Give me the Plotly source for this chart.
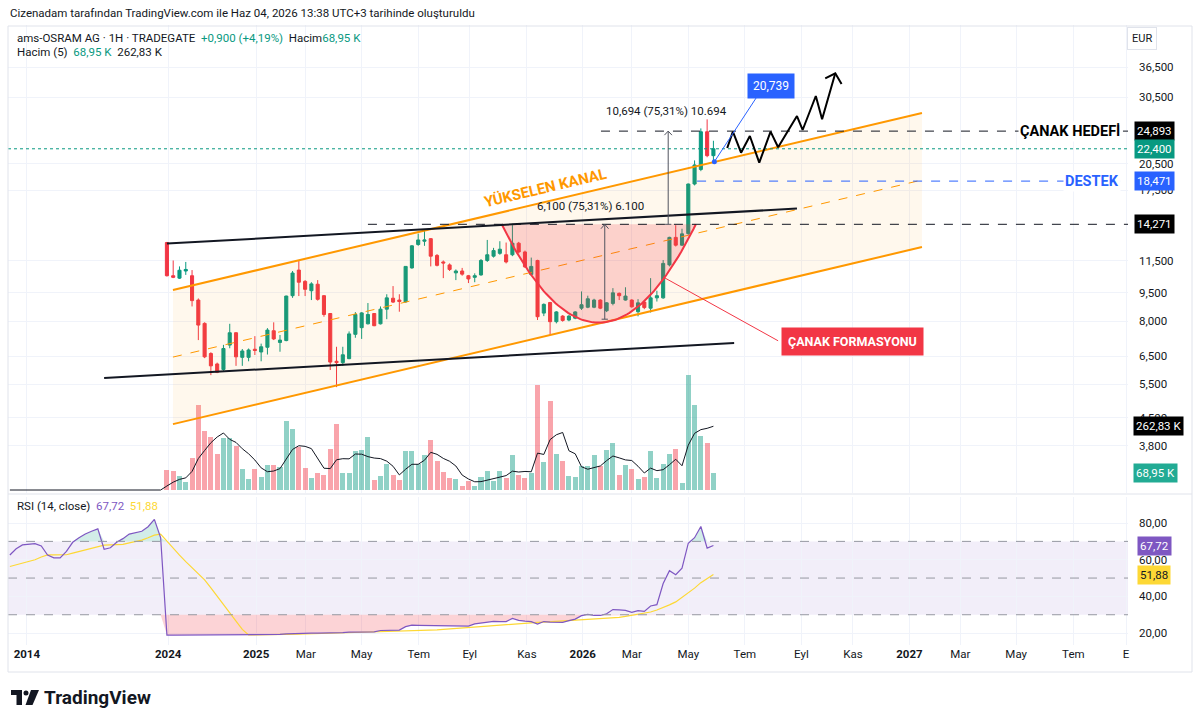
import numpy as np
import pandas as pd
import plotly.graph_objects as go

################################################################################
# data (weekly bars, EUR, volume in thousands)

# bars before the 2024 listing: only RSI is visible for them
rsi_pre = [62.6, 66.0, 68.1, 68.3, 68.8, 67.5, 62.5, 61.0, 61.0, 64.6,
           69.5, 72.0, 74.0, 75.5, 76.8, 65.7, 66.5, 69.5, 71.5, 74.0,
           74.7, 75.5, 78.0, 82.0, 72.0]
rsi_ma_pre = [56.3, 57.2, 58.0, 59.0, 60.0, 61.5, 62.6, 62.6, 62.6, 62.7,
              63.6, 64.5, 65.4, 66.4, 67.4, 68.0, 68.1, 68.2, 68.4, 69.2,
              69.9, 70.7, 72.0, 73.4, 74.0]

opens = [12.8, 10.5, 10.35, 10.8, 10.5, 9.08, 7.9, 6.6, 6.2, 6.0,
         6.94, 7.47, 6.45, 6.45, 6.77, 6.66, 6.85, 7.56, 7.05, 7.13,
         9.32, 10.86, 10.15, 9.6, 9.98, 9.32, 8.38, 6.3, 6.25, 6.4,
         7.4, 7.7, 7.88, 8.38, 7.88, 8.6, 9.18, 9.08, 8.98, 11.0,
         12.65, 12.9, 13.1, 11.85, 11.4, 11.2, 10.68, 10.8, 10.5, 10.4,
         10.55, 11.5, 11.8, 12.0, 11.9, 11.9, 12.75, 12.1, 10.58, 11.5,
         8.4, 8.95, 7.98, 8.25, 8.06, 8.15, 8.65, 8.7, 8.7, 9.08,
         8.52, 8.9, 9.45, 9.08, 9.08, 8.47, 8.97, 8.65, 9.2, 9.2,
         11.2, 13.2, 12.6, 13.5, 18.15, 19.8, 24.8, 21.5]
highs = [12.85, 11.5, 11.1, 11.4, 10.86, 9.17, 7.95, 6.65, 6.25, 6.95,
         7.88, 7.5, 6.78, 6.8, 7.32, 7.0, 7.68, 7.95, 7.37, 9.32,
         10.8, 11.53, 10.23, 10.1, 10.23, 9.35, 8.4, 6.87, 6.87, 7.53,
         8.45, 8.45, 8.92, 8.4, 8.74, 9.4, 9.87, 9.4, 11.1, 12.6,
         13.5, 13.75, 13.15, 11.95, 11.5, 11.3, 10.9, 11.0, 10.55, 10.65,
         11.6, 13.0, 12.4, 12.9, 12.8, 14.2, 12.85, 12.2, 11.7, 11.55,
         8.9, 8.98, 8.5, 8.3, 8.3, 8.5, 9.56, 9.32, 9.15, 9.12,
         8.97, 9.75, 9.5, 9.8, 9.12, 9.13, 9.0, 10.35, 9.6, 11.53,
         13.25, 14.2, 13.9, 18.2, 20.9, 25.3, 26.7, 23.5]
lows = [10.45, 10.35, 10.3, 10.55, 8.74, 7.15, 6.42, 5.8, 5.87, 5.95,
        6.81, 6.13, 6.13, 6.3, 6.54, 6.3, 6.56, 7.15, 6.67, 7.1,
        9.2, 9.3, 9.3, 9.08, 9.05, 8.22, 5.98, 5.4, 6.13, 6.38,
        7.25, 7.2, 7.85, 7.77, 7.85, 8.1, 8.92, 8.47, 8.95, 10.95,
        12.55, 12.55, 11.1, 11.1, 10.35, 10.8, 10.23, 10.5, 10.05, 10.1,
        10.5, 11.4, 11.7, 11.9, 11.3, 11.8, 12.0, 11.0, 10.5, 8.06,
        8.25, 7.37, 7.9, 7.98, 8.0, 8.1, 8.56, 8.65, 8.65, 8.6,
        8.45, 8.8, 9.08, 9.05, 8.68, 8.24, 8.6, 8.43, 9.0, 9.15,
        11.1, 12.5, 12.55, 13.4, 18.0, 19.6, 21.3, 20.95]
closes = [10.5, 10.4, 10.85, 10.9, 9.05, 7.82, 6.47, 6.13, 5.9, 6.8,
          7.47, 6.47, 6.7, 6.74, 6.72, 6.87, 7.59, 7.2, 7.15, 9.3,
          10.67, 10.1, 9.68, 10.0, 9.12, 8.33, 6.27, 6.25, 6.55, 7.42,
          8.33, 8.41, 8.33, 7.79, 8.6, 9.2, 8.97, 9.0, 11.1, 12.55,
          13.0, 13.0, 11.8, 11.17, 11.33, 10.9, 10.8, 10.6, 10.3, 10.5,
          11.5, 11.9, 12.2, 12.3, 11.4, 12.75, 12.1, 11.07, 11.1, 8.22,
          8.85, 7.98, 8.46, 8.04, 8.25, 8.46, 8.83, 9.15, 9.08, 8.65,
          8.93, 9.48, 9.32, 9.3, 8.72, 8.93, 8.68, 9.2, 9.32, 11.3,
          13.2, 12.6, 13.48, 18.15, 20.34, 24.8, 21.5, 22.4]
volumes = [82, 78, 57, 31, 132, 345, 242, 215, 148, 214,
           214, 180, 86, 46, 86, 54, 101, 101, 95, 283,
           248, 177, 88, 49, 71, 60, 169, 268, 71, 68,
           159, 165, 218, 42, 57, 107, 60, 42, 158, 158,
           107, 143, 203, 117, 75, 49, 46, 18, 37, 18,
           52, 78, 37, 78, 49, 143, 60, 49, 71, 430,
           116, 363, 148, 117, 57, 54, 98, 98, 143, 98,
           163, 192, 60, 101, 86, 46, 54, 160, 49, 106,
           147, 166, 27, 470, 347, 222, 193, 68.95]
rsi = [18.9, 18.9, 18.9, 18.9, 18.9, 18.9, 18.9, 18.9, 18.9, 18.9,
       18.9, 18.9, 18.9, 19.0, 19.1, 19.2, 19.2, 19.3, 19.3, 19.6,
       19.8, 20.0, 20.0, 20.0, 20.0, 20.0, 20.0, 20.2, 20.3, 20.5,
       20.5, 20.6, 20.7, 20.7, 21.4, 21.6, 21.6, 21.6, 23.5, 24.3,
       24.2, 24.1, 24.0, 24.0, 23.9, 23.9, 23.8, 23.8, 23.8, 25.0,
       25.6, 26.2, 26.4, 26.3, 26.3, 28.0, 26.9, 26.5, 26.2, 24.9,
       26.3, 26.0, 25.8, 25.8, 26.8, 27.6, 29.5, 30.2, 29.6, 29.6,
       30.5, 32.8, 32.6, 32.4, 31.3, 32.2, 31.8, 34.8, 35.5, 47.0,
       54.0, 51.8, 55.4, 69.0, 72.0, 78.1, 66.3, 67.72]
rsi_ma = [70.0, 66.0, 62.5, 59.0, 55.5, 52.2, 49.0, 44.7, 40.0, 35.5,
          31.0, 26.5, 22.0, 19.0, 19.0, 19.0, 19.1, 19.1, 19.2, 19.2,
          19.3, 19.4, 19.5, 19.6, 19.7, 19.8, 19.9, 20.0, 20.1, 20.2,
          20.3, 20.4, 20.5, 20.6, 20.7, 20.8, 20.8, 20.9, 21.0, 21.0,
          21.1, 21.1, 21.4, 21.7, 22.0, 22.2, 22.5, 22.8, 23.0, 23.3,
          23.6, 23.8, 24.1, 24.4, 24.6, 24.9, 25.2, 25.4, 25.6, 25.8,
          26.0, 26.2, 26.4, 26.6, 26.8, 27.0, 27.2, 27.4, 27.6, 27.8,
          28.0, 28.2, 28.6, 29.1, 29.7, 30.3, 30.9, 31.5, 32.6, 33.9,
          35.4, 37.0, 39.5, 42.0, 44.5, 47.5, 49.7, 51.88]

# time axis (bar positions of the labels)
tick_bars = [-22.3, 0.2, 14.2, 22.1, 31.0, 40.1, 48.2, 57.3, 66.2, 74.0,
             83.0, 92.0, 101.0, 109.2, 118.2, 126.3, 135.2, 144.3, 152.7]
tick_text = ['<b>2014</b>', '<b>2024</b>', '<b>2025</b>', 'Mar', 'May', 'Tem', 'Eyl', 'Kas',
             '<b>2026</b>', 'Mar', 'May', 'Tem', 'Eyl', 'Kas', '<b>2027</b>', 'Mar', 'May',
             'Tem', 'E']
price_ticks = [3.8, 4.5, 5.5, 6.5, 8.0, 9.5, 11.5, 17.5, 20.5, 30.5, 36.5]
price_ticktext = ['3,800', '4,500', '5,500', '6,500', '8,000', '9,500', '11,500',
                  '17,500', '20,500', '30,500', '36,500']

# drawings (bar, price)
channel_upper = [(0.96, 9.64), (120.2, 27.74)]
channel_lower = [(0.96, 4.33), (120.2, 12.46)]
channel_mid = [(0.96, 6.46), (120.2, 18.59)]
trend_upper = [(0.0, 12.72), (100.3, 15.68)]
trend_lower = [(-10.0, 5.70), (90.3, 7.03)]
cup_rim, cup_bottom, cup_left, cup_right = 14.271, 7.93, 53.3, 84.2
target, support, last_price = 24.893, 18.471, 22.4
zz_bars = [89.2, 90.1, 91.4, 92.8, 94.3, 96.1, 97.3, 100.3, 101.2, 103.3, 104.3, 106.4]
zz_prices = [22.51, 24.81, 21.88, 24.18, 20.62, 24.81, 22.60, 27.24, 25.06, 30.70, 26.71, 35.15]

################################################################################

UP = '#089981'
DOWN = '#f23645'
INK = '#131722'
BLUE = '#2962ff'
ORANGE = '#ff9800'
GRID = '#f0f3fa'
FONT = 'Roboto'

W, H = 1200, 724
ML, MR, MT, MB = 8, 72, 25, 52

def px(x):
    return (x - ML) / (W - ML - MR)

def py(y):
    return (H - MB - y) / (H - MT - MB)

def lg(p):
    return float(np.log10(p))

bars = list(range(len(closes)))
pre_bars = list(range(-len(rsi_pre), 0))
all_bars = pre_bars + bars
vol_full = [0] * len(rsi_pre) + volumes
vol_ma = pd.Series(vol_full).rolling(5, min_periods=1).mean()
rsi_all = rsi_pre + rsi
rsi_ma_all = rsi_ma_pre + rsi_ma
x_end = 153.0

fig = go.Figure()

# volume (base axis of the price pane)
vol_colors = ['rgba(8,153,129,0.45)' if c >= o else 'rgba(242,54,69,0.45)' for o, c in zip(opens, closes)]
fig.add_trace(go.Bar(x=bars, y=volumes, marker=dict(color=vol_colors, line_width=0), width=0.8,
                     xaxis='x', yaxis='y', hoverinfo='skip'))
fig.add_trace(go.Scatter(x=all_bars, y=vol_ma, mode='lines', line=dict(color=INK, width=1),
                         xaxis='x', yaxis='y', hoverinfo='skip'))

def line(pts, color, width=2, dash=None, fill=None, fillcolor=None):
    fig.add_trace(go.Scatter(x=[p[0] for p in pts], y=[p[1] for p in pts], mode='lines',
                             line=dict(color=color, width=width, dash=dash), fill=fill,
                             fillcolor=fillcolor, xaxis='x', yaxis='y2', hoverinfo='skip'))

# rising channel
line(channel_upper + channel_lower[::-1], 'rgba(0,0,0,0)', 0, fill='toself', fillcolor='rgba(255,152,0,0.07)')
line(channel_upper, ORANGE, 2)
line(channel_lower, ORANGE, 2)
line(channel_mid, ORANGE, 1, dash='dash')

# cup (parabola through rim and bottom on the log scale)
t = np.linspace(-1, 1, 80)
cup_x = (cup_left + cup_right) / 2 + (cup_right - cup_left) / 2 * t
cup_y = 10 ** (lg(cup_rim) + (lg(cup_bottom) - lg(cup_rim)) * (1 - t ** 2))
line(list(zip(cup_x, cup_y)), 'rgba(0,0,0,0)', 0, fill='toself', fillcolor='rgba(242,54,69,0.2)')
line(list(zip(cup_x, cup_y)), DOWN, 2)

# trend lines
line(trend_upper, INK, 2)
line(trend_lower, INK, 2)

# horizontal levels
line([(32.0, cup_rim), (x_end, cup_rim)], INK, 1, dash='dash')
line([(69.1, target), (x_end, target)], INK, 1, dash='dash')
line([(84.4, support), (x_end, support)], BLUE, 1, dash='dash')
line([(-25.3, last_price), (x_end, last_price)], UP, 1, dash='dot')

# candles
fig.add_trace(go.Candlestick(x=bars, open=opens, high=highs, low=lows, close=closes,
                             increasing=dict(line=dict(color=UP, width=1), fillcolor=UP),
                             decreasing=dict(line=dict(color=DOWN, width=1), fillcolor=DOWN),
                             whiskerwidth=0, xaxis='x', yaxis='y2', hoverinfo='skip'))

# measures
line([(69.7, 8.1), (69.7, cup_rim)], '#50535e', 1)
line([(69.2, 8.1), (70.2, 8.1)], '#50535e', 1)
line([(69.1, 13.9), (69.7, cup_rim), (70.3, 13.9)], '#50535e', 1)
line([(79.8, cup_rim), (79.8, target)], '#50535e', 1)
line([(79.3, cup_rim), (80.3, cup_rim)], '#50535e', 1)
line([(79.2, 24.3), (79.8, target), (80.4, 24.3)], '#50535e', 1)

# projected path
line(list(zip(zz_bars, zz_prices)), '#000000', 2)
line([(104.8, 34.12), (106.4, 35.15), (107.4, 32.98)], '#000000', 2)

# callouts
line([(87.15, 20.739), (93.9, 30.51)], BLUE, 1)
fig.add_trace(go.Scatter(x=[87.15], y=[20.739], mode='markers', marker=dict(color=BLUE, size=5),
                         xaxis='x', yaxis='y2', hoverinfo='skip'))
line([(79.0, 10.42), (97.3, 7.12)], DOWN, 1)

# RSI pane
rsi_s = np.array(rsi_all)
fig.add_trace(go.Scatter(x=all_bars, y=[70] * len(all_bars), mode='lines', line=dict(width=0),
                         xaxis='x2', yaxis='y3', hoverinfo='skip'))
fig.add_trace(go.Scatter(x=all_bars, y=np.maximum(rsi_s, 70), mode='lines', line=dict(width=0),
                         fill='tonexty', fillcolor='rgba(8,153,129,0.18)', xaxis='x2', yaxis='y3',
                         hoverinfo='skip'))
fig.add_trace(go.Scatter(x=all_bars, y=[30] * len(all_bars), mode='lines', line=dict(width=0),
                         xaxis='x2', yaxis='y3', hoverinfo='skip'))
fig.add_trace(go.Scatter(x=all_bars, y=np.minimum(rsi_s, 30), mode='lines', line=dict(width=0),
                         fill='tonexty', fillcolor='rgba(242,54,69,0.22)', xaxis='x2', yaxis='y3',
                         hoverinfo='skip'))
fig.add_trace(go.Scatter(x=all_bars, y=rsi_ma_all, mode='lines', line=dict(color='#fdd835', width=1.2),
                         xaxis='x2', yaxis='y3', hoverinfo='skip'))
fig.add_trace(go.Scatter(x=all_bars, y=rsi_all, mode='lines', line=dict(color='#7e57c2', width=1.2),
                         xaxis='x2', yaxis='y3', hoverinfo='skip'))

################################################################################

shapes = [
    dict(type='rect', xref='paper', yref='y3', x0=0, x1=1, y0=30, y1=70,
         fillcolor='rgba(126,87,194,0.1)', line_width=0, layer='below'),
]
for lvl in [70, 50, 30]:
    shapes.append(dict(type='line', xref='paper', yref='y3', x0=0, x1=1, y0=lvl, y1=lvl,
                       line=dict(color='#9598a1', width=1, dash='dash')))
shapes.append(dict(type='line', xref='paper', yref='paper', x0=px(8), x1=px(1192), y0=py(494), y1=py(494),
                   line=dict(color='#e0e3eb', width=1)))
shapes.append(dict(type='rect', xref='paper', yref='paper', x0=px(8), x1=px(1192), y0=py(672), y1=py(26),
                   line=dict(color='#e0e3eb', width=1)))
# TradingView logo
shapes.append(dict(type='rect', xref='paper', yref='paper', x0=px(11), x1=px(22), y0=py(695), y1=py(690),
                   fillcolor=INK, line_width=0))
shapes.append(dict(type='rect', xref='paper', yref='paper', x0=px(16.5), x1=px(22), y0=py(705), y1=py(690),
                   fillcolor=INK, line_width=0))
shapes.append(dict(type='circle', xref='paper', yref='paper', x0=px(23.5), x1=px(28.5), y0=py(695.5), y1=py(690.5),
                   fillcolor=INK, line_width=0))
shapes.append(dict(type='path', xref='paper', yref='paper', fillcolor=INK, line_width=0,
                   path='M %f,%f L %f,%f L %f,%f L %f,%f Z' % (px(31), py(690), px(39), py(690),
                                                              px(32.5), py(705), px(25.5), py(705))))

def box(x, y, text, bg, yref, color='white', xanchor='center'):
    return dict(x=x, y=y, xref='paper', yref=yref, text=text, showarrow=False, bgcolor=bg,
                font=dict(family=FONT, size=11.5, color=color), borderpad=2, xanchor=xanchor,
                yanchor='middle')

annotations = [
    dict(x=px(8), y=py(13), xref='paper', yref='paper', xanchor='left', yanchor='middle', showarrow=False,
         text='Cizenadam tarafından TradingView.com ile Haz 04, 2026 13:38 UTC+3 tarihinde oluşturuldu',
         font=dict(family=FONT, size=11.5, color=INK)),
    dict(x=px(15), y=py(38), xref='paper', yref='paper', xanchor='left', yanchor='middle', showarrow=False,
         text='ams-OSRAM AG · 1H · TRADEGATE  <span style="color:#089981">+0,900 (+4,19%)</span>  '
              'Hacim<span style="color:#089981">68,95 K</span>',
         font=dict(family=FONT, size=11.5, color=INK)),
    dict(x=px(15), y=py(52), xref='paper', yref='paper', xanchor='left', yanchor='middle', showarrow=False,
         text='Hacim (5)  <span style="color:#089981">68,95 K</span>  262,83 K',
         font=dict(family=FONT, size=11.5, color=INK)),
    dict(x=px(15), y=py(506), xref='paper', yref='paper', xanchor='left', yanchor='middle', showarrow=False,
         text='RSI (14, close)  <span style="color:#7e57c2">67,72</span>  <span style="color:#fdd835">51,88</span>',
         font=dict(family=FONT, size=11.5, color=INK)),
    dict(x=px(1157), y=py(38), xref='paper', yref='paper', yanchor='middle', showarrow=False, text='EUR',
         font=dict(family=FONT, size=11, color=INK), bordercolor='#e0e3eb', borderpad=4),
    box(px(1154), lg(target), '24,893', '#000000', 'y2'),
    box(px(1154), lg(last_price), '22,400', UP, 'y2'),
    box(px(1154), lg(support), '18,471', BLUE, 'y2'),
    box(px(1154), lg(cup_rim), '14,271', '#000000', 'y2'),
    box(px(1158), 262.83, '262,83 K', '#000000', 'y'),
    box(px(1155), 68.95, '68,95 K', '#22ab94', 'y'),
    box(px(1154), 67.72, '67,72', '#7e57c2', 'y3'),
    box(px(1154), 51.88, '51,88', '#fdd835', 'y3', color=INK),
    dict(x=px(1122), y=lg(target), xref='paper', yref='y2', xanchor='right', yanchor='middle', showarrow=False,
         text='<b>ÇANAK HEDEFİ</b>', bgcolor='white', borderpad=1,
         font=dict(family=FONT, size=14.5, color='#000000')),
    dict(x=px(1121), y=lg(support), xref='paper', yref='y2', xanchor='right', yanchor='middle', showarrow=False,
         text='<b>DESTEK</b>', bgcolor='white', borderpad=1,
         font=dict(family=FONT, size=14.5, color=BLUE)),
    dict(x=60.2, y=lg(17.72), xref='x', yref='y2', showarrow=False, textangle=-13.3,
         text='<b>YÜKSELEN KANAL</b>', font=dict(family=FONT, size=15, color=ORANGE)),
    dict(x=67.4, y=lg(15.92), xref='x', yref='y2', showarrow=False,
         text='6,100 (75,31%) 6.100', font=dict(family=FONT, size=11.5, color=INK)),
    dict(x=79.5, y=lg(28.07), xref='x', yref='y2', showarrow=False,
         text='10,694 (75,31%) 10.694', font=dict(family=FONT, size=11.5, color=INK)),
    dict(x=96.2, y=lg(32.59), xref='x', yref='y2', showarrow=False, text='20,739', bgcolor=BLUE,
         borderpad=5, font=dict(family=FONT, size=12, color='white')),
    dict(x=109.2, y=lg(7.11), xref='x', yref='y2', showarrow=False, text='<b>ÇANAK FORMASYONU</b>',
         bgcolor=DOWN, borderpad=6, font=dict(family=FONT, size=12.5, color='white')),
    dict(x=px(42), y=py(697), xref='paper', yref='paper', xanchor='left', yanchor='middle', showarrow=False,
         text='<b>TradingView</b>', font=dict(family=FONT, size=19, color=INK)),
]

fig.update_layout(
    width=W, height=H,
    margin=dict(l=ML, r=MR, t=MT, b=MB),
    paper_bgcolor='white', plot_bgcolor='white',
    showlegend=False, bargap=0,
    font=dict(family=FONT, color=INK),
    xaxis=dict(domain=[0, 1], anchor='y', range=[-25.3, x_end], tickvals=tick_bars, showticklabels=False,
               showgrid=True, gridcolor=GRID, zeroline=False, ticks='', rangeslider=dict(visible=False)),
    xaxis2=dict(domain=[0, 1], anchor='y3', matches='x', range=[-25.3, x_end], tickvals=tick_bars,
                ticktext=tick_text, showgrid=True, gridcolor=GRID, zeroline=False, ticks='',
                tickfont=dict(family=FONT, size=11.5, color=INK), rangeslider=dict(visible=False)),
    yaxis=dict(domain=[py(493), 1], range=[-12.2, 1898], visible=False, fixedrange=True),
    yaxis2=dict(overlaying='y', anchor='x', side='right', type='log',
                range=[lg(2.87), lg(46.9)], tickvals=price_ticks, ticktext=price_ticktext,
                showgrid=True, gridcolor=GRID, zeroline=False, ticks='', ticklabelstandoff=10,
                tickfont=dict(family=FONT, size=11.5, color=INK)),
    yaxis3=dict(domain=[py(645), py(497)], anchor='x2', side='right', range=[13.5, 94.2],
                tickvals=[20, 40, 60, 80], ticktext=['20,00', '40,00', '60,00', '80,00'],
                showgrid=True, gridcolor=GRID, zeroline=False, ticks='', ticklabelstandoff=10,
                tickfont=dict(family=FONT, size=11.5, color=INK)),
    shapes=shapes,
    annotations=annotations,
)

# the page's default body margin would push the figure 8px right and down
fig.write_html('out.html', config={'displayModeBar': False},
               post_script="document.body.style.margin='0px';")
